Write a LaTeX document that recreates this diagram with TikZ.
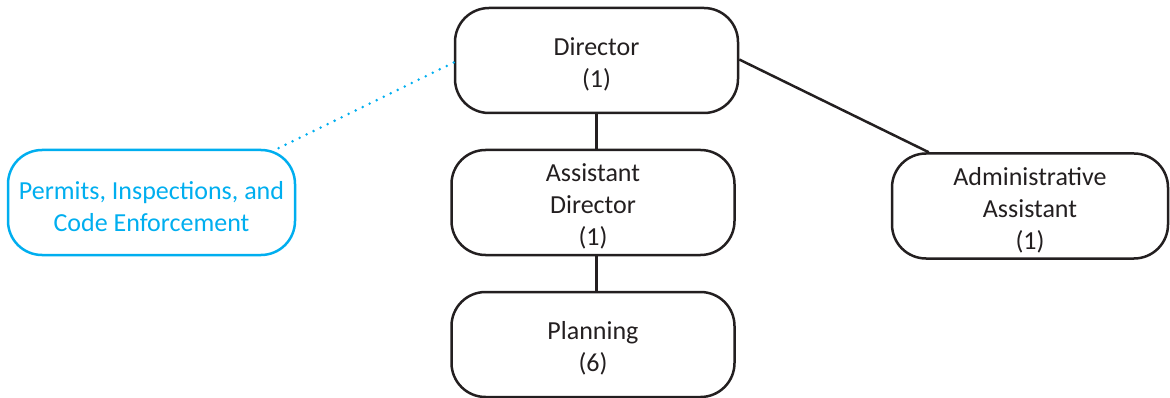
\documentclass[tikz,border=0pt]{standalone}
\usepackage{fontspec}
\setmainfont{Carlito}
\definecolor{inkblack}{RGB}{35,31,32}
\definecolor{pice}{RGB}{0,174,239}
% tall invisible strut that lowers the text block a little inside each box
\newcommand\toppad{\rule{0pt}{26pt}}
\tikzset{
  orgbox/.style={draw=inkblack, line width=2.5pt, rounded corners=34pt,
    minimum width=283pt, minimum height=105pt, inner sep=0pt,
    align=center, text=inkblack, font=\fontsize{26}{32}\selectfont},
  cyanbox/.style={orgbox, draw=pice, text=pice},
  link/.style={draw=inkblack, line width=2.5pt},
  dotlink/.style={draw=pice, line width=2.8pt, line cap=round, dash pattern=on 0pt off 7.8pt}
}
\begin{document}
\begin{tikzpicture}[x=1pt,y=-1pt]
\useasboundingbox (0,0) rectangle (1170,398);
\node[orgbox] (dir) at (596.5,60.5) {\toppad Director\\(1)};
\node[orgbox] (asst) at (593,202.5) {\toppad Assistant\\Director\\(1)};
\node[orgbox] (plan) at (593,344.5) {\toppad Planning\\(6)};
\node[orgbox, minimum width=276pt] (adm) at (1030,206) {\toppad Administrative\\Assistant\\(1)};
\node[cyanbox, minimum width=287pt] (perm) at (151.5,202.5) {\toppad Permits, Inspections, and\\Code Enforcement};
\draw[link] (dir.south) -- (dir.south |- asst.north);
\draw[link] (dir.south |- asst.south) -- (dir.south |- plan.north);
\draw[link] ([yshift=1pt]dir.east) -- ([xshift=38pt]adm.north west);
\draw[dotlink] ([yshift=-2pt]dir.west) -- ([xshift=-23pt,yshift=-2pt]perm.north east);
\end{tikzpicture}
\end{document}
